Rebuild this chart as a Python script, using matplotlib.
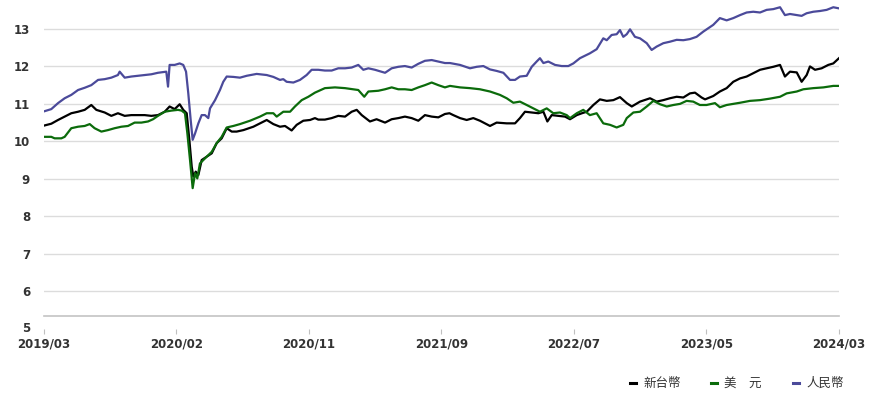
import numpy as np
import matplotlib
matplotlib.use("Agg")
import matplotlib.pyplot as plt
from matplotlib.lines import Line2D

# (month offset from 2019/03, value) per currency
twd_points = [
    (0, 10.42), (0.55, 10.47), (1.06, 10.57), (1.56, 10.66), (2.06, 10.75), (2.57, 10.79),
    (3.07, 10.84), (3.57, 10.97), (3.95, 10.84), (4.58, 10.77), (5.08, 10.68), (5.58, 10.75),
    (6.09, 10.68), (6.59, 10.70), (7.09, 10.70), (7.6, 10.70), (8.1, 10.68), (8.6, 10.70),
    (9.11, 10.79), (9.48, 10.93), (9.86, 10.86), (10.24, 10.99), (10.51, 10.84), (10.77, 10.75),
    (10.97, 10.04), (11.15, 9.32), (11.27, 9.06), (11.45, 9.19), (11.65, 9.10), (11.90, 9.50),
    (12.28, 9.59), (12.66, 9.68), (13.03, 9.95), (13.41, 10.08), (13.79, 10.35), (14.17, 10.26),
    (14.54, 10.26), (15.05, 10.30), (15.80, 10.39), (16.30, 10.48), (16.81, 10.57), (17.31, 10.46),
    (17.81, 10.39), (18.19, 10.41), (18.69, 10.29), (19.07, 10.44), (19.57, 10.55), (20.08, 10.57),
    (20.45, 10.62), (20.70, 10.58), (21.2, 10.58), (21.71, 10.62), (22.21, 10.68), (22.72, 10.66),
    (23.22, 10.79), (23.60, 10.84), (23.98, 10.70), (24.6, 10.53), (25.1, 10.59), (25.74, 10.50),
    (26.24, 10.59), (26.74, 10.62), (27.24, 10.66), (27.75, 10.62), (28.25, 10.55), (28.75, 10.70),
    (29.26, 10.66), (29.76, 10.64), (30.26, 10.73), (30.6, 10.75), (30.89, 10.70), (31.4, 10.62),
    (31.9, 10.57), (32.4, 10.62), (32.9, 10.55), (33.66, 10.41), (34.16, 10.50), (34.92, 10.48),
    (35.55, 10.48), (35.92, 10.62), (36.3, 10.79), (36.81, 10.77), (37.31, 10.75), (37.69, 10.79),
    (37.99, 10.53), (38.32, 10.70), (38.82, 10.68), (39.32, 10.66), (39.70, 10.59), (40.21, 10.70),
    (40.6, 10.75), (40.96, 10.79), (41.46, 10.97), (41.96, 11.12), (42.47, 11.08), (42.97, 11.10),
    (43.47, 11.18), (43.98, 11.02), (44.36, 10.93), (44.98, 11.06), (45.74, 11.15), (46.24, 11.06),
    (46.74, 11.10), (47.24, 11.15), (47.75, 11.19), (48.25, 11.17), (48.75, 11.28), (49.13, 11.30),
    (49.63, 11.17), (49.89, 11.12), (50.51, 11.21), (51.01, 11.33), (51.52, 11.42), (52.02, 11.59),
    (52.53, 11.68), (53.03, 11.73), (53.53, 11.82), (54.04, 11.91), (54.54, 11.95), (55.04, 11.99),
    (55.55, 12.04), (55.92, 11.73), (56.3, 11.86), (56.81, 11.84), (57.18, 11.59), (57.56, 11.77),
    (57.81, 12.00), (58.19, 11.91), (58.69, 11.95), (59.19, 12.04), (59.57, 12.08), (60, 12.22),
]

usd_points = [
    (0, 10.12), (0.55, 10.12), (0.80, 10.08), (1.31, 10.08), (1.56, 10.12), (2.06, 10.35),
    (2.57, 10.39), (3.07, 10.41), (3.45, 10.46), (3.82, 10.35), (4.33, 10.26), (4.83, 10.30),
    (5.33, 10.35), (5.84, 10.39), (6.34, 10.41), (6.84, 10.50), (7.35, 10.50), (7.85, 10.53),
    (8.23, 10.59), (8.6, 10.68), (9.11, 10.79), (9.61, 10.82), (10.11, 10.84), (10.39, 10.82),
    (10.64, 10.75), (10.82, 10.21), (11.02, 9.50), (11.22, 8.75), (11.40, 9.15), (11.57, 9.01),
    (11.77, 9.41), (12.28, 9.59), (12.66, 9.72), (13.03, 9.95), (13.41, 10.12), (13.79, 10.37),
    (14.29, 10.41), (14.79, 10.46), (15.55, 10.55), (16.30, 10.66), (16.81, 10.75), (17.31, 10.75),
    (17.56, 10.66), (18.06, 10.79), (18.57, 10.79), (18.94, 10.93), (19.45, 11.10), (19.95, 11.19),
    (20.45, 11.30), (21.2, 11.42), (21.96, 11.44), (22.72, 11.42), (23.72, 11.37), (24.17, 11.19),
    (24.48, 11.33), (25.23, 11.35), (25.74, 11.39), (26.24, 11.44), (26.74, 11.39), (27.24, 11.39),
    (27.75, 11.37), (28.25, 11.44), (28.75, 11.50), (29.26, 11.57), (29.76, 11.50), (30.26, 11.44),
    (30.64, 11.48), (31.4, 11.44), (32.15, 11.42), (32.9, 11.39), (33.66, 11.33), (34.41, 11.24),
    (34.92, 11.15), (35.42, 11.03), (35.92, 11.06), (36.43, 10.97), (36.93, 10.88), (37.43, 10.79),
    (37.94, 10.88), (38.44, 10.75), (38.94, 10.77), (39.45, 10.70), (39.70, 10.62), (40.21, 10.75),
    (40.70, 10.84), (41.2, 10.70), (41.71, 10.75), (42.21, 10.48), (42.72, 10.44), (43.22, 10.37),
    (43.72, 10.44), (43.98, 10.62), (44.48, 10.77), (44.98, 10.79), (45.49, 10.93), (45.99, 11.08),
    (46.49, 10.99), (47.0, 10.93), (47.5, 10.97), (48.0, 11.00), (48.5, 11.08), (49.0, 11.06),
    (49.5, 10.97), (50.0, 10.97), (50.64, 11.02), (51.01, 10.91), (51.52, 10.97), (52.02, 11.00),
    (52.53, 11.03), (53.28, 11.08), (54.04, 11.10), (54.79, 11.14), (55.55, 11.19), (56.05, 11.28),
    (56.81, 11.33), (57.31, 11.39), (58.06, 11.42), (58.82, 11.44), (59.57, 11.48), (60, 11.48),
]

cny_points = [
    (0, 10.80), (0.55, 10.86), (1.06, 11.02), (1.56, 11.15), (2.06, 11.24), (2.57, 11.37),
    (3.07, 11.43), (3.57, 11.50), (4.08, 11.64), (4.58, 11.66), (5.08, 11.70), (5.58, 11.77),
    (5.71, 11.86), (6.09, 11.70), (6.59, 11.73), (7.09, 11.75), (7.6, 11.77), (8.1, 11.79),
    (8.6, 11.83), (9.23, 11.86), (9.36, 11.46), (9.48, 12.04), (9.86, 12.04), (10.24, 12.08),
    (10.51, 12.04), (10.72, 11.86), (10.89, 11.28), (11.07, 10.57), (11.22, 10.04), (11.40, 10.21),
    (11.65, 10.48), (11.90, 10.70), (12.15, 10.70), (12.40, 10.62), (12.53, 10.88), (12.91, 11.10),
    (13.28, 11.37), (13.53, 11.59), (13.79, 11.73), (14.29, 11.72), (14.79, 11.70), (15.30, 11.75),
    (16.05, 11.80), (16.81, 11.77), (17.31, 11.72), (17.81, 11.64), (18.06, 11.66), (18.31, 11.59),
    (18.82, 11.57), (19.32, 11.64), (19.82, 11.77), (20.2, 11.91), (20.70, 11.91), (21.2, 11.89),
    (21.71, 11.89), (22.21, 11.95), (22.72, 11.95), (23.22, 11.97), (23.72, 12.04), (24.1, 11.91),
    (24.48, 11.95), (24.98, 11.91), (25.74, 11.83), (26.24, 11.95), (26.74, 11.99), (27.24, 12.01),
    (27.75, 11.97), (28.25, 12.07), (28.75, 12.15), (29.26, 12.17), (29.76, 12.13), (30.26, 12.09),
    (30.64, 12.09), (31.4, 12.04), (32.15, 11.95), (32.66, 11.99), (33.16, 12.01), (33.66, 11.92),
    (34.16, 11.88), (34.67, 11.83), (35.17, 11.64), (35.55, 11.64), (35.92, 11.73), (36.43, 11.75),
    (36.81, 11.99), (37.18, 12.13), (37.43, 12.22), (37.69, 12.09), (38.06, 12.13), (38.57, 12.04),
    (39.07, 12.01), (39.57, 12.01), (39.95, 12.08), (40.45, 12.22), (41.2, 12.35), (41.71, 12.46),
    (42.21, 12.75), (42.47, 12.70), (42.84, 12.84), (43.22, 12.86), (43.47, 12.97), (43.72, 12.79),
    (43.98, 12.86), (44.23, 12.99), (44.60, 12.79), (44.98, 12.75), (45.49, 12.62), (45.86, 12.44),
    (46.24, 12.53), (46.74, 12.62), (47.24, 12.66), (47.75, 12.71), (48.25, 12.70), (48.75, 12.73),
    (49.25, 12.79), (49.76, 12.93), (50.26, 13.05), (50.51, 13.11), (51.01, 13.29), (51.52, 13.23),
    (52.02, 13.29), (52.53, 13.37), (53.03, 13.44), (53.53, 13.46), (54.04, 13.44), (54.54, 13.51),
    (55.04, 13.53), (55.55, 13.58), (55.92, 13.37), (56.3, 13.40), (56.81, 13.37), (57.18, 13.35),
    (57.56, 13.42), (58.06, 13.46), (58.57, 13.48), (59.07, 13.51), (59.57, 13.58), (60, 13.55),
]

tick_months = [0, 10, 20, 30, 40, 50, 60]
tick_labels = ["2019/03", "2020/02", "2020/11", "2021/09", "2022/07", "2023/05", "2024/03"]
y_ticks = [6, 7, 8, 9, 10, 11, 12, 13]

series = [
    ("新台幣", twd_points, "#000000"),
    ("美　元", usd_points, "#0b6b0b"),
    ("人民幣", cny_points, "#4b4a9a"),
]

W, H = 878, 394
fig = plt.figure(figsize=(W / 100, H / 100), dpi=100)
ax = fig.add_axes([44 / W, (H - 316) / H, 795 / W, 311 / H])

for v in y_ticks:
    ax.axhline(v, color="#dcdcdc", lw=1.0, zorder=1)
y_bottom, y_top = 5.336, 13.64
ax.axhline(y_bottom, color="#c4c4c4", lw=1.2, zorder=1, clip_on=False)

for name, pts, color in series:
    arr = np.array(pts)
    ax.plot(arr[:, 0], arr[:, 1], color=color, lw=1.6, zorder=3,
            solid_joinstyle="round")

ax.set_xlim(0, 60)
ax.set_ylim(y_bottom, y_top)

for s in ax.spines.values():
    s.set_visible(False)
ax.spines["bottom"].set_position(("data", 5))

ax.set_xticks(tick_months)
ax.set_xticklabels(tick_labels, fontweight="bold")
ax.tick_params(axis="x", length=3.6, width=0.8, color="#c0c0c0", pad=3,
               labelsize=8.5, labelcolor="#333333")

ax.set_yticks(y_ticks)
ax.set_yticklabels([str(v) for v in y_ticks], fontweight="bold")
ax.tick_params(axis="y", length=0, pad=10, labelsize=8.5, labelcolor="#333333")
ax.annotate("5", xy=(0, 5), xycoords=("axes fraction", "data"),
            xytext=(-10, 0), textcoords="offset points", ha="right", va="center",
            fontsize=8.5, fontweight="bold", color="#333333", annotation_clip=False)

# legend strip along the bottom right
leg_y = 1 - 383 / H
for (name, pts, color), x0 in zip(series, [630, 711, 793]):
    fig.add_artist(Line2D([x0 / W, (x0 + 6) / W], [leg_y, leg_y],
                          transform=fig.transFigure, color=color, lw=2.2))
    fig.text((x0 + 13) / W, leg_y, name, ha="left", va="center", fontsize=9,
             color="#333333", family=["Noto Sans CJK TC", "DejaVu Sans"])

fig.savefig("out.png", dpi=100)
